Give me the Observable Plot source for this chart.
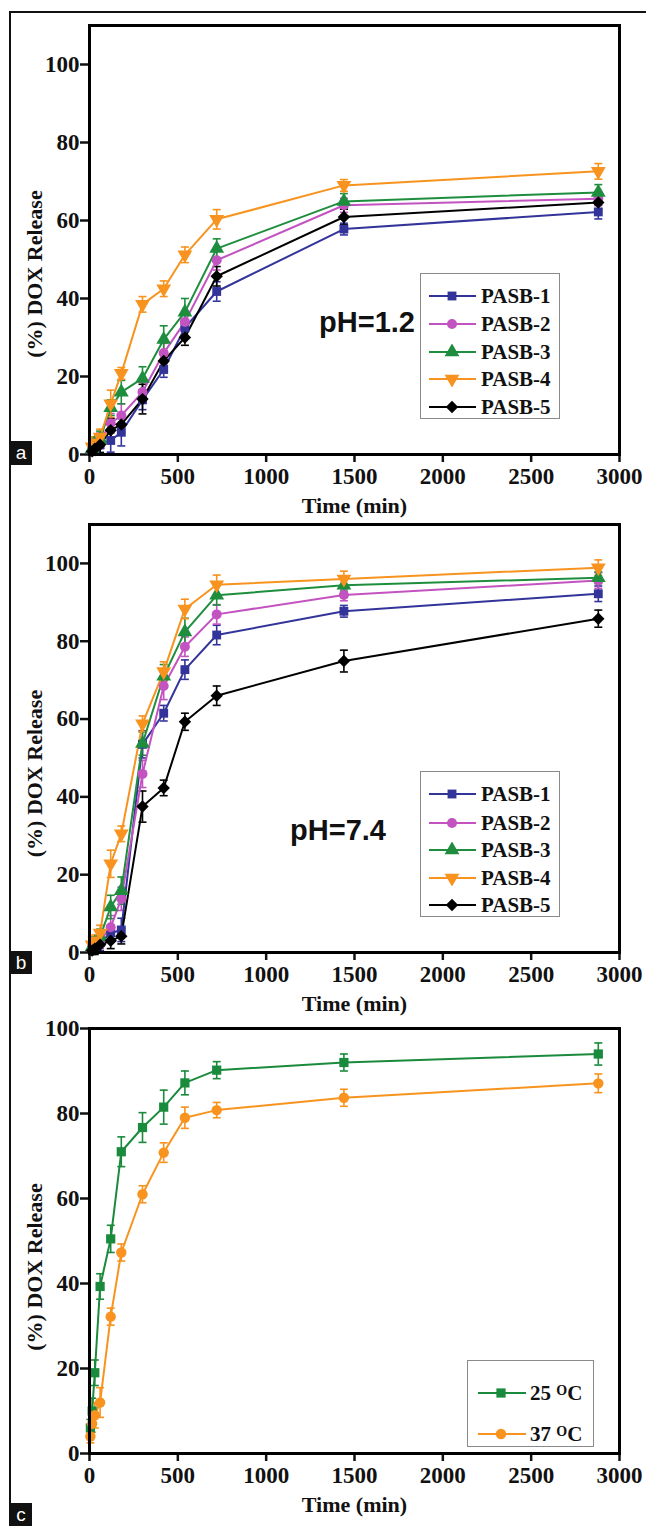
<!DOCTYPE html>
<html><head><meta charset="utf-8">
<script src="https://cdn.jsdelivr.net/npm/d3@7"></script>
<script src="https://cdn.jsdelivr.net/npm/@observablehq/plot@0.6"></script>
<style>
html,body{margin:0;padding:0;background:#fff;}
#page{position:relative;width:646px;height:1526px;overflow:hidden;background:#fff;}
.panel{position:absolute;left:0;}
.border{position:absolute;left:9px;top:11px;width:660px;height:1540px;border-left:2px solid #111;border-top:2px solid #111;pointer-events:none;}
.legend{position:absolute;background:#fff;border:1px solid #8a8a8a;box-sizing:border-box;font-family:"Liberation Serif",serif;font-weight:bold;font-size:21px;color:#111;}
.legend .row{position:absolute;left:0;height:0;}
.legend .row svg{position:absolute;top:-8px;}
.legend .row span{position:absolute;top:-13px;line-height:26px;white-space:nowrap;}
.legend sup{font-size:14px;position:relative;top:-2px;vertical-align:top;}
.tag{position:absolute;left:10px;width:22px;background:#111;color:#fff;font-family:"Liberation Sans",Arial,sans-serif;font-size:19px;text-align:center;}
.ph{position:absolute;font-family:"Liberation Sans",Arial,sans-serif;font-weight:bold;font-size:29px;color:#111;transform:translate(-50%,-50%);white-space:nowrap;}
</style></head>
<body><div id="page"></div>
<script>
// ---------- data ----------
const timesAB = [15, 30, 60, 120, 180, 300, 420, 540, 720, 1440, 2880];
const timesC  = [5, 15, 30, 60, 120, 180, 300, 420, 540, 720, 1440, 2880];
const seriesNames = ["PASB-1", "PASB-2", "PASB-3", "PASB-4", "PASB-5"];

// Panel a: pH = 1.2
const a_PASB1 = [1.0, 1.5, 2.5, 3.6, 5.7, 14.0, 21.8, 32.5, 41.8, 57.8, 62.2];
const a_PASB2 = [1.5, 2.5, 3.5, 8.0, 10.0, 16.0, 26.0, 34.0, 49.8, 63.9, 65.6];
const a_PASB3 = [1.5, 3.0, 4.0, 12.0, 16.0, 19.5, 29.5, 36.5, 52.8, 64.9, 67.2];
const a_PASB4 = [2.0, 3.0, 4.5, 13.0, 20.8, 38.5, 42.5, 51.2, 60.3, 69.0, 72.6];
const a_PASB5 = [0.8, 1.5, 2.5, 6.2, 7.7, 14.2, 24.0, 30.0, 45.7, 60.9, 64.6];
const a_err1 = [1, 1.5, 2, 3, 3.5, 2.5, 2, 2, 2.5, 1.5, 1.8];
const a_err2 = [1, 1.5, 2, 2.5, 3, 2.5, 2.5, 2.5, 2.5, 1.8, 1.8];
const a_err3 = [1, 1.5, 2, 2, 3, 3, 3.5, 3.5, 2.5, 2, 2];
const a_err4 = [1, 1.5, 2, 3.5, 1.5, 2, 2, 2, 2.5, 1.5, 2];
const a_err5 = [1, 1.5, 2, 3, 2, 3.8, 2, 2, 2.5, 2, 1.8];

// Panel b: pH = 7.4
const b_PASB1 = [1.0, 1.5, 2.5, 5.0, 5.8, 53.5, 61.5, 72.7, 81.6, 87.7, 92.2];
const b_PASB2 = [1.5, 2.0, 3.0, 6.5, 13.8, 45.9, 68.5, 78.6, 86.9, 91.9, 95.6];
const b_PASB3 = [1.5, 2.5, 4.0, 11.7, 15.9, 53.7, 71.0, 82.4, 91.8, 94.4, 96.3];
const b_PASB4 = [2.0, 3.0, 5.0, 22.8, 30.5, 58.8, 72.2, 88.3, 94.5, 96.0, 98.9];
const b_PASB5 = [0.5, 1.0, 2.0, 3.0, 4.2, 37.5, 42.3, 59.3, 66.0, 74.9, 85.8];
const b_err1 = [1, 1.5, 2, 2, 3, 3.5, 2, 2.5, 2.5, 1.5, 2];
const b_err2 = [1, 1.5, 2, 3, 3, 3.5, 3.5, 2.5, 2.5, 1.5, 2];
const b_err3 = [1, 1.5, 2, 3, 3.5, 3, 3, 3.5, 2.5, 1.5, 1.5];
const b_err4 = [1, 1.5, 2, 3.5, 2, 2, 2.5, 2.5, 2.5, 2, 2];
const b_err5 = [1, 1.5, 2, 2, 2, 4, 2, 2.2, 2.5, 2.8, 2.2];

// Panel c: temperature
const tempNames = ["25", "37"];
const c_25 = [6, 10, 19, 39.3, 50.5, 71.0, 76.7, 81.5, 87.2, 90.2, 92.0, 94.0];
const c_37 = [4, 7, 9, 12, 32.2, 47.3, 61.0, 70.8, 79.0, 80.8, 83.7, 87.1];
const c_err25 = [2, 3, 3, 3, 3.2, 3.5, 3.5, 4, 2.8, 2, 2, 2.6];
const c_err37 = [1.5, 2, 3, 3.5, 2, 2, 2, 2.3, 2.5, 1.8, 2, 2.2];

const xTicks = [0, 500, 1000, 1500, 2000, 2500, 3000];
const yTicks = [0, 20, 40, 60, 80, 100];
const phLabels = ["pH=1.2", "pH=7.4"];
const xLabel = "Time (min)";
const yLabel = "(%) DOX Release";

// ---------- styles ----------
const colors5 = ["#33349a", "#c353c0", "#1e8e3e", "#f7931e", "#000000"];
const symbols5 = ["square", "circle", "triangle", "triangle", "diamond2"];
const rotates5 = [0, 0, 0, 180, 0];
const radii5 = [5, 5, 5.5, 5.5, 5.6];
const colorsC = ["#1a8a3c", "#f7931e"];
const symbolsC = ["square", "circle"];

const capSymbol = {draw(ctx, size) { const w = Math.sqrt(size); ctx.moveTo(-w / 2, 0); ctx.lineTo(w / 2, 0); }};

function makeRows(times, vals, errs, name) {
  return times.map((t, i) => ({t, v: vals[i], e: errs[i], name}));
}

function panel({top, height, mt, mb, yMax, series, ylabelDy}) {
  const marks = [
    Plot.axisX({ticks: xTicks, tickSize: 8, tickPadding: 5, strokeWidth: 2.5, label: null, fontSize: 23, tickFormat: d => String(d)}),
    Plot.axisY({ticks: yTicks, tickSize: 9, tickPadding: 1, strokeWidth: 2.5, label: null, fontSize: 23, tickFormat: d => String(d)})
  ];
  for (const s of series) {
    marks.push(Plot.ruleX(s.rows, {x: "t", y1: d => d.v - d.e, y2: d => d.v + d.e, stroke: s.color, strokeWidth: 1.6}));
    marks.push(Plot.dot(s.rows, {x: "t", y: d => d.v + d.e, symbol: capSymbol, r: 4.5, fill: "none", stroke: s.color, strokeWidth: 1.6}));
    marks.push(Plot.dot(s.rows, {x: "t", y: d => d.v - d.e, symbol: capSymbol, r: 4.5, fill: "none", stroke: s.color, strokeWidth: 1.6}));
  }
  for (const s of series) {
    marks.push(Plot.line(s.rows, {x: "t", y: "v", stroke: s.color, strokeWidth: 2}));
  }
  for (const s of series) {
    marks.push(Plot.dot(s.rows, {x: "t", y: "v", symbol: s.symbol, rotate: s.rotate, r: s.r, fill: s.color, stroke: "none"}));
  }
  marks.push(Plot.frame({stroke: "#000", strokeWidth: 3}));
  marks.push(Plot.text([xLabel], {frameAnchor: "bottom", textAnchor: "middle", lineAnchor: "middle", dy: 51, fontSize: 22, fontWeight: "bold"}));
  marks.push(Plot.text([yLabel], {frameAnchor: "left", textAnchor: "middle", lineAnchor: "middle", rotate: -90, dx: -55, dy: ylabelDy, fontSize: 22, fontWeight: "bold"}));
  const svg = Plot.plot({
    width: 646, height, marginLeft: 89, marginRight: 27, marginTop: mt, marginBottom: mb,
    x: {domain: [0, 3000]},
    y: {domain: [0, yMax]},
    style: {fontFamily: "'Liberation Serif', 'Times New Roman', serif", fontWeight: "bold", fontSize: "22px", background: "transparent", color: "#111", overflow: "visible"},
    marks
  });
  const wrap = document.createElement("div");
  wrap.className = "panel";
  wrap.style.top = top + "px";
  wrap.appendChild(svg);
  page.appendChild(wrap);
}

const page = document.getElementById("page");

const seriesA = [a_PASB1, a_PASB2, a_PASB3, a_PASB4, a_PASB5].map((v, i) => ({
  rows: makeRows(timesAB, v, [a_err1, a_err2, a_err3, a_err4, a_err5][i], seriesNames[i]),
  color: colors5[i], symbol: symbols5[i], rotate: rotates5[i], r: radii5[i]
}));
const seriesB = [b_PASB1, b_PASB2, b_PASB3, b_PASB4, b_PASB5].map((v, i) => ({
  rows: makeRows(timesAB, v, [b_err1, b_err2, b_err3, b_err4, b_err5][i], seriesNames[i]),
  color: colors5[i], symbol: symbols5[i], rotate: rotates5[i], r: radii5[i]
}));
const seriesC = [c_25, c_37].map((v, i) => ({
  rows: makeRows(timesC, v, [c_err25, c_err37][i], tempNames[i]),
  color: colorsC[i], symbol: symbolsC[i], rotate: 0, r: 5.2
}));

panel({top: 0, height: 512, mt: 25, mb: 58, yMax: 110, series: seriesA, ylabelDy: 34});
panel({top: 512, height: 500, mt: 12, mb: 60, yMax: 110, series: seriesB, ylabelDy: 35});
panel({top: 1012, height: 514, mt: 16, mb: 73, yMax: 100, series: seriesC, ylabelDy: 26});

// ---------- legends & annotations ----------
function symPath(sym, r, rot) {
  const map = {square: d3.symbolSquare, circle: d3.symbolCircle, triangle: d3.symbolTriangle, diamond2: d3.symbolDiamond2};
  return {d: d3.symbol(map[sym], Math.PI * r * r)(), rot};
}
function legend({left, top, w, h, rows, lineX1, lineX2, markX, textX}) {
  const box = document.createElement("div");
  box.className = "legend";
  Object.assign(box.style, {left: left + "px", top: top + "px", width: w + "px", height: h + "px"});
  for (const r of rows) {
    const row = document.createElement("div");
    row.className = "row";
    row.style.top = r.y + "px";
    const p = symPath(r.symbol, r.r, r.rotate);
    row.innerHTML = `<svg width="${lineX2 + 2}" height="16" style="left:0"><line x1="${lineX1}" x2="${lineX2}" y1="8" y2="8" stroke="${r.color}" stroke-width="2.2"/><path d="${p.d}" transform="translate(${markX},8) rotate(${p.rot})" fill="${r.color}"/></svg><span style="left:${textX}px">${r.label}</span>`;
    box.appendChild(row);
  }
  page.appendChild(box);
}
const legYs = [22, 50, 78, 105, 133];
legend({left: 420, top: 273, w: 140, h: 146, lineX1: 8, lineX2: 55, markX: 31, textX: 60,
  rows: seriesNames.map((n, i) => ({y: legYs[i], label: n, color: colors5[i], symbol: symbols5[i], rotate: rotates5[i], r: radii5[i]}))});
legend({left: 420, top: 771, w: 140, h: 146, lineX1: 8, lineX2: 55, markX: 31, textX: 60,
  rows: seriesNames.map((n, i) => ({y: [22, 51, 78, 106, 133][i], label: n, color: colors5[i], symbol: symbols5[i], rotate: rotates5[i], r: radii5[i]}))});
legend({left: 467, top: 1360, w: 127, h: 87, lineX1: 10, lineX2: 58, markX: 33, textX: 62,
  rows: tempNames.map((n, i) => ({y: [32, 73][i], label: `${n} <sup>O</sup>C`, color: colorsC[i], symbol: symbolsC[i], rotate: 0, r: 5.2}))});

function ph(text, x, y) {
  const d = document.createElement("div");
  d.className = "ph"; d.textContent = text;
  d.style.left = x + "px"; d.style.top = y + "px";
  page.appendChild(d);
}
ph(phLabels[0], 367, 322);
ph(phLabels[1], 338, 830);

function tag(letter, top, h) {
  const d = document.createElement("div");
  d.className = "tag"; d.textContent = letter;
  d.style.top = top + "px"; d.style.height = h + "px"; d.style.lineHeight = h + "px";
  page.appendChild(d);
}
tag("a", 441, 24);
tag("b", 951, 23);
tag("c", 1503, 23);

const border = document.createElement("div");
border.className = "border";
page.appendChild(border);
</script>
</body></html>
